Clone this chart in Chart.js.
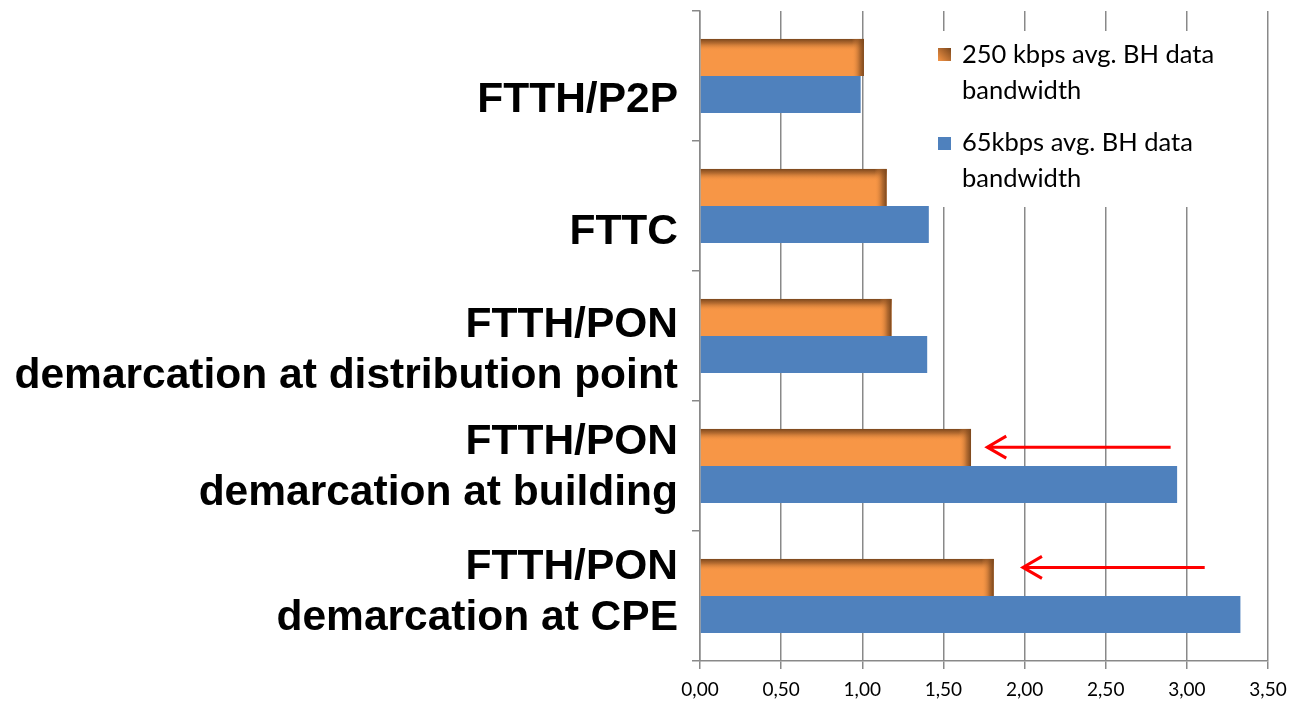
<!DOCTYPE html>
<html>
<head>
<meta charset="utf-8">
<script src="https://cdn.jsdelivr.net/npm/chart.js@4"></script>
<style>
  html, body { margin: 0; padding: 0; background: #fff; }
  #wrap { width: 1291px; height: 715px; }
</style>
</head>
<body>
<div id="wrap"><canvas id="myChart" width="1291" height="715"></canvas></div>
<script>
// categories (top to bottom)
const categories = [
  ["FTTH/P2P"],
  ["FTTC"],
  ["FTTH/PON", "demarcation at distribution point"],
  ["FTTH/PON", "demarcation at building"],
  ["FTTH/PON", "demarcation at CPE"],
];

const series250 = [1.01, 1.15, 1.18, 1.67, 1.81];
const series65 = [0.99, 1.41, 1.40, 2.94, 3.33];

const seriesNames = ["250 kbps avg. BH data bandwidth", "65kbps avg. BH data bandwidth"];

const xTicks = [0, 0.5, 1, 1.5, 2, 2.5, 3, 3.5];

// red arrows: from value -> to value, on category index
const arrowFrom = [2.90, 3.11];
const arrowTo = [1.77, 1.99];
const arrowCat = [3, 4];
const arrowShift = [-0.145, -0.22];

const ORANGE = "#F79646";
const BLUE = "#4F81BD";
const GRID = "#898989";

// label block offsets (px) from the category centre, as in the original
const labelShift = [24, 26, 15, 2, -3];
const LINE_H = 51;

//shading on the orange bars
const bevelPlugin = {
  id: "bevel",
  afterDatasetsDraw(chart) {
    const ctx = chart.ctx;
    chart.getDatasetMeta(0).data.forEach((bar) => {
      const p = bar.getProps(["x", "y", "base", "height"], true);
      const top = p.y - p.height / 2;
      const left = p.base;
      const w = p.x - p.base;
      ctx.save();
      let g = ctx.createLinearGradient(0, top, 0, top + 12);
      g.addColorStop(0, "rgba(122,70,28,1)");
      g.addColorStop(0.35, "rgba(150,88,38,0.7)");
      g.addColorStop(1, "rgba(247,150,70,0)");
      ctx.fillStyle = g;
      ctx.fillRect(left, top, w, 12);
      g = ctx.createLinearGradient(p.x - 12, 0, p.x, 0);
      g.addColorStop(0, "rgba(247,150,70,0)");
      g.addColorStop(0.65, "rgba(150,88,38,0.7)");
      g.addColorStop(1, "rgba(122,70,28,1)");
      ctx.fillStyle = g;
      ctx.fillRect(p.x - 12, top, 12, p.height);
      ctx.restore();
    });
  },
};

//category labels, placed off the y scale
const catLabelPlugin = {
  id: "catLabels",
  afterDraw(chart) {
    const ctx = chart.ctx;
    const ys = chart.scales.y;
    ctx.save();
    ctx.fillStyle = "#000";
    ctx.font = "bold 42.5px 'Liberation Sans'";
    ctx.textAlign = "right";
    ctx.textBaseline = "middle";
    const right = ys.right - 8 - 14;
    categories.forEach((lines, i) => {
      const mid = ys.getPixelForValue(i) + labelShift[i];
      const start = mid - ((lines.length - 1) * LINE_H) / 2;
      lines.forEach((t, k) => ctx.fillText(t, right, start + k * LINE_H));
    });
    ctx.restore();
  },
};

//legend box inside the plot
const legendPlugin = {
  id: "boxLegend",
  beforeDatasetsDraw(chart) {
    const ctx = chart.ctx;
    ctx.save();
    ctx.fillStyle = "#fff";
    ctx.fillRect(925, 31, 320, 176);

    let g = ctx.createLinearGradient(938, 61, 951, 48);
    g.addColorStop(0, ORANGE);
    g.addColorStop(1, "#7a461c");
    ctx.fillStyle = g;
    ctx.fillRect(938, 48, 13, 13);
    ctx.fillStyle = BLUE;
    ctx.fillRect(938, 137, 13, 13);

    ctx.fillStyle = "#000";
    ctx.font = "25.5px Lato";
    ctx.textBaseline = "middle";
    ctx.textAlign = "left";
    const split = (s) => [s.replace(" bandwidth", ""), "bandwidth"];
    const l1 = split(seriesNames[0]);
    const l2 = split(seriesNames[1]);
    ctx.fillText(l1[0], 962, 55);
    ctx.fillText(l1[1], 962, 91);
    ctx.fillText(l2[0], 962, 143);
    ctx.fillText(l2[1], 962, 179);
    ctx.restore();
  },
};

const arrowPlugin = {
  id: "arrows",
  afterDraw(chart) {
    const ctx = chart.ctx;
    const xs = chart.scales.x;
    const ys = chart.scales.y;
    ctx.save();
    ctx.strokeStyle = "#FF0000";
    ctx.lineWidth = 3;
    arrowFrom.forEach((v, i) => {
      const y = ys.getPixelForValue(arrowCat[i] + arrowShift[i]);
      const x1 = xs.getPixelForValue(v);
      const x2 = xs.getPixelForValue(arrowTo[i]);
      ctx.beginPath();
      ctx.moveTo(x1, y);
      ctx.lineTo(x2, y);
      ctx.moveTo(x2 + 19, y - 11);
      ctx.lineTo(x2, y);
      ctx.lineTo(x2 + 19, y + 11);
      ctx.stroke();
    });
    ctx.restore();
  },
};

new Chart(document.getElementById("myChart"), {
  type: "bar",
  data: {
    labels: categories,
    datasets: [
      {
        label: seriesNames[0],
        data: series250,
        backgroundColor: ORANGE,
        categoryPercentage: 0.57,
        barPercentage: 1.0,
      },
      {
        label: seriesNames[1],
        data: series65,
        backgroundColor: BLUE,
        categoryPercentage: 0.57,
        barPercentage: 1.0,
      },
    ],
  },
  options: {
    indexAxis: "y",
    responsive: false,
    animation: false,
    layout: { padding: { top: 11, right: 23, left: 0, bottom: 0 } },
    plugins: {
      legend: { display: false },
      tooltip: { enabled: false },
    },
    scales: {
      x: {
        min: 0,
        max: 3.5,
        afterBuildTicks: (s) => {
          s.ticks = xTicks.map((v) => ({ value: v }));
        },
        ticks: {
          callback: (v) => Number(v).toFixed(2).replace(".", ","),
          font: { family: "Lato", size: 19 },
          color: "#000",
          padding: 9,
          maxRotation: 0,
        },
        grid: { color: GRID, lineWidth: 1.5, tickLength: 8 },
        border: { color: GRID, width: 1.5 },
        afterFit: (s) => {
          s.height = 54;
          s.paddingLeft = 0;
          s.paddingRight = 0;
        },
      },
      y: {
        grid: {
          drawOnChartArea: false,
          offset: true,
          tickLength: 8,
          color: GRID,
          lineWidth: 1.5,
        },
        border: { color: GRID, width: 1.5 },
        ticks: { display: false },
        afterFit: (s) => {
          s.width = 700;
          s.paddingTop = 0;
          s.paddingBottom = 0;
        },
      },
    },
  },
  plugins: [bevelPlugin, legendPlugin, arrowPlugin, catLabelPlugin],
});
</script>
</body>
</html>
